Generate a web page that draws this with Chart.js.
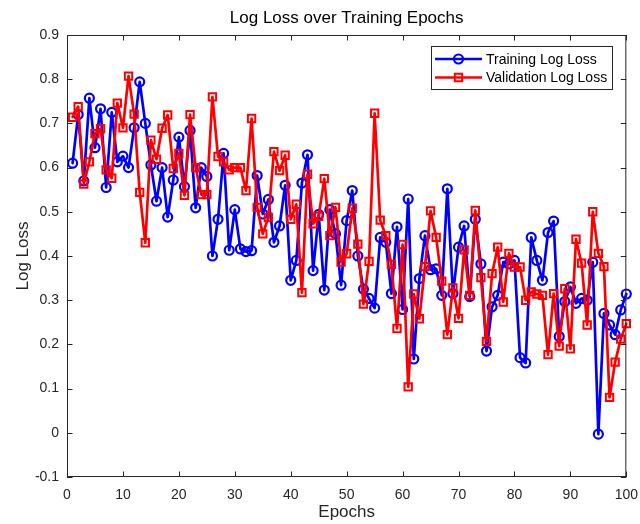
<!DOCTYPE html>
<html>
<head>
<meta charset="utf-8">
<title>Log Loss over Training Epochs</title>
<script src="https://cdn.jsdelivr.net/npm/chart.js@4.4.1/dist/chart.umd.min.js"></script>
<style>
	html, body { margin: 0; padding: 0; background: #fff; }
	canvas { display: block; }
</style>
</head>
<body>
<canvas id="lossChart" width="640" height="524"></canvas>
<script>
// values, epochs 1..100
var epochs = [];
for (var e = 1; e <= 100; e++) epochs.push(e);

var trainLoss = [
	0.61, 0.72, 0.57, 0.757, 0.645, 0.733, 0.555, 0.725, 0.613, 0.626,
	0.60, 0.69, 0.794, 0.70, 0.606, 0.524, 0.60, 0.488, 0.572, 0.669,
	0.557, 0.684, 0.509, 0.60, 0.58, 0.40, 0.483, 0.632, 0.413, 0.505,
	0.416, 0.41, 0.412, 0.582, 0.495, 0.528, 0.431, 0.468, 0.56, 0.345,
	0.39, 0.565, 0.629, 0.367, 0.494, 0.323, 0.505, 0.45, 0.334, 0.48,
	0.548, 0.40, 0.325, 0.304, 0.282, 0.442, 0.431, 0.315, 0.466, 0.279,
	0.529, 0.167, 0.349, 0.446, 0.369, 0.371, 0.311, 0.552, 0.315, 0.42,
	0.468, 0.308, 0.483, 0.382, 0.185, 0.285, 0.311, 0.386, 0.382, 0.39,
	0.17, 0.158, 0.442, 0.39, 0.345, 0.453, 0.479, 0.218, 0.297, 0.33,
	0.293, 0.304, 0.30, 0.386, -0.003, 0.27, 0.244, 0.222, 0.278, 0.314
];

var validLoss = [
	0.714, 0.738, 0.563, 0.613, 0.677, 0.688, 0.595, 0.576, 0.746, 0.69,
	0.807, 0.721, 0.544, 0.43, 0.662, 0.619, 0.689, 0.719, 0.598, 0.632,
	0.537, 0.72, 0.60, 0.539, 0.539, 0.76, 0.625, 0.613, 0.595, 0.60,
	0.60, 0.548, 0.711, 0.51, 0.45, 0.487, 0.636, 0.593, 0.628, 0.483,
	0.517, 0.317, 0.585, 0.473, 0.49, 0.575, 0.446, 0.51, 0.386, 0.405,
	0.508, 0.427, 0.291, 0.388, 0.723, 0.481, 0.446, 0.381, 0.236, 0.426,
	0.104, 0.314, 0.258, 0.376, 0.502, 0.442, 0.343, 0.222, 0.328, 0.259,
	0.414, 0.311, 0.503, 0.351, 0.207, 0.36, 0.42, 0.296, 0.406, 0.375,
	0.375, 0.30, 0.319, 0.314, 0.311, 0.177, 0.315, 0.196, 0.326, 0.19,
	0.438, 0.384, 0.244, 0.50, 0.406, 0.376, 0.08, 0.16, 0.212, 0.247
];

var seriesNames = ['Training Log Loss', 'Validation Log Loss'];
var titleText = 'Log Loss over Training Epochs';
var xTitle = 'Epochs';
var yTitle = 'Log Loss';

var FONT = "'Liberation Sans', Arial, Helvetica, sans-serif";
var AXIS = '#262626';

var toPoints = (ys) => ys.map((y, i) => ({ x: epochs[i], y: y }));

// title, box with inward ticks and a matlab style legend
var matlabLook = {
	id: 'matlabLook',
	afterDatasetsDraw: (chart) => {
		var ctx = chart.ctx;
		var a = chart.chartArea;
		var xs = chart.scales.x, ys = chart.scales.y;
		var tl = 5.5;

		ctx.save();
		ctx.strokeStyle = AXIS;
		ctx.lineWidth = 1;
		ctx.strokeRect(a.left + 0.5, a.top + 0.5, a.right - a.left - 1, a.bottom - a.top - 1);

		ctx.beginPath();
		xs.ticks.forEach(t => {
			var px = Math.round(xs.getPixelForValue(t.value)) + 0.5;
			ctx.moveTo(px, a.bottom); ctx.lineTo(px, a.bottom - tl);
			ctx.moveTo(px, a.top); ctx.lineTo(px, a.top + tl);
		});
		ys.ticks.forEach(t => {
			var py = Math.round(ys.getPixelForValue(t.value)) + 0.5;
			ctx.moveTo(a.left, py); ctx.lineTo(a.left + tl, py);
			ctx.moveTo(a.right, py); ctx.lineTo(a.right - tl, py);
		});
		ctx.stroke();

		// title
		ctx.fillStyle = '#000';
		ctx.font = '17px ' + FONT;
		ctx.textAlign = 'center';
		ctx.textBaseline = 'middle';
		ctx.fillText(titleText, (a.left + a.right) / 2, 18);

		// legend
		var bx = 431, by = 46, bw = 181, bh = 43;
		ctx.fillStyle = '#fff';
		ctx.fillRect(bx, by, bw, bh);
		ctx.strokeStyle = AXIS;
		ctx.lineWidth = 1;
		ctx.strokeRect(bx + 0.5, by + 0.5, bw, bh);

		ctx.font = '14px ' + FONT;
		ctx.textAlign = 'left';
		chart.data.datasets.forEach((ds, i) => {
			var ry = by + 13 + i * 18.5;
			ctx.strokeStyle = ds.borderColor;
			ctx.lineWidth = ds.borderWidth;
			ctx.beginPath();
			ctx.moveTo(bx + 4, ry); ctx.lineTo(bx + 51, ry);
			ctx.stroke();
			ctx.lineWidth = ds.pointBorderWidth;
			ctx.beginPath();
			if (ds.pointStyle === 'rect') {
				var s = ds.pointRadius * Math.SQRT1_2;
				ctx.rect(bx + 27.5 - s, ry - s, 2 * s, 2 * s);
			} else {
				ctx.arc(bx + 27.5, ry, ds.pointRadius, 0, Math.PI * 2);
			}
			ctx.stroke();
			ctx.fillStyle = '#000';
			ctx.fillText(ds.label, bx + 55, ry + 1);
		});
		ctx.restore();
	}
};

var ctx = document.getElementById('lossChart').getContext('2d');

var chart = new Chart(ctx, {
	type: 'line',
	data: {
		datasets: [
			{
				label: seriesNames[0],
				data: toPoints(trainLoss),
				borderColor: 'rgb(0,0,255)',
				backgroundColor: 'rgba(0,0,0,0)',
				borderWidth: 2.7,
				borderJoinStyle: 'round',
				borderCapStyle: 'round',
				pointStyle: 'circle',
				pointRadius: 4.5,
				pointBorderWidth: 2.2,
				pointBackgroundColor: 'rgba(0,0,0,0)',
				tension: 0,
				clip: false,
				order: 1
			},
			{
				label: seriesNames[1],
				data: toPoints(validLoss),
				borderColor: 'rgb(255,0,0)',
				backgroundColor: 'rgba(0,0,0,0)',
				borderWidth: 2.7,
				borderJoinStyle: 'round',
				borderCapStyle: 'round',
				pointStyle: 'rect',
				pointRadius: 5.2,
				pointBorderWidth: 2,
				pointBackgroundColor: 'rgba(0,0,0,0)',
				tension: 0,
				clip: false,
				order: 0
			}
		]
	},
	options: {
		responsive: false,
		animation: false,
		devicePixelRatio: 1,
		layout: { padding: { left: 0, right: 13, top: 35, bottom: 0 } },
		plugins: {
			legend: { display: false },
			title: { display: false },
			tooltip: { enabled: false }
		},
		scales: {
			x: {
				type: 'linear',
				min: 0,
				max: 100,
				grid: { display: false },
				border: { display: false },
				ticks: {
					stepSize: 10,
					color: AXIS,
					padding: 2,
					maxRotation: 0,
					font: { family: FONT, size: 14 }
				},
				title: {
					display: true,
					text: xTitle,
					color: AXIS,
					padding: { top: 0, bottom: 1 },
					font: { family: FONT, size: 17 }
				},
				afterFit: (scale) => { scale.height = 47; }
			},
			y: {
				min: -0.1,
				max: 0.9,
				grid: { display: false },
				border: { display: false },
				ticks: {
					stepSize: 0.1,
					color: AXIS,
					padding: 0,
					font: { family: FONT, size: 14 },
					callback: (v) => String(Number(v.toFixed(1)))
				},
				title: {
					display: true,
					text: yTitle,
					color: AXIS,
					padding: { top: 13, bottom: 0 },
					font: { family: FONT, size: 17 }
				},
				afterFit: (scale) => { scale.width = 67; }
			}
		}
	},
	plugins: [matlabLook]
});
</script>
</body>
</html>
